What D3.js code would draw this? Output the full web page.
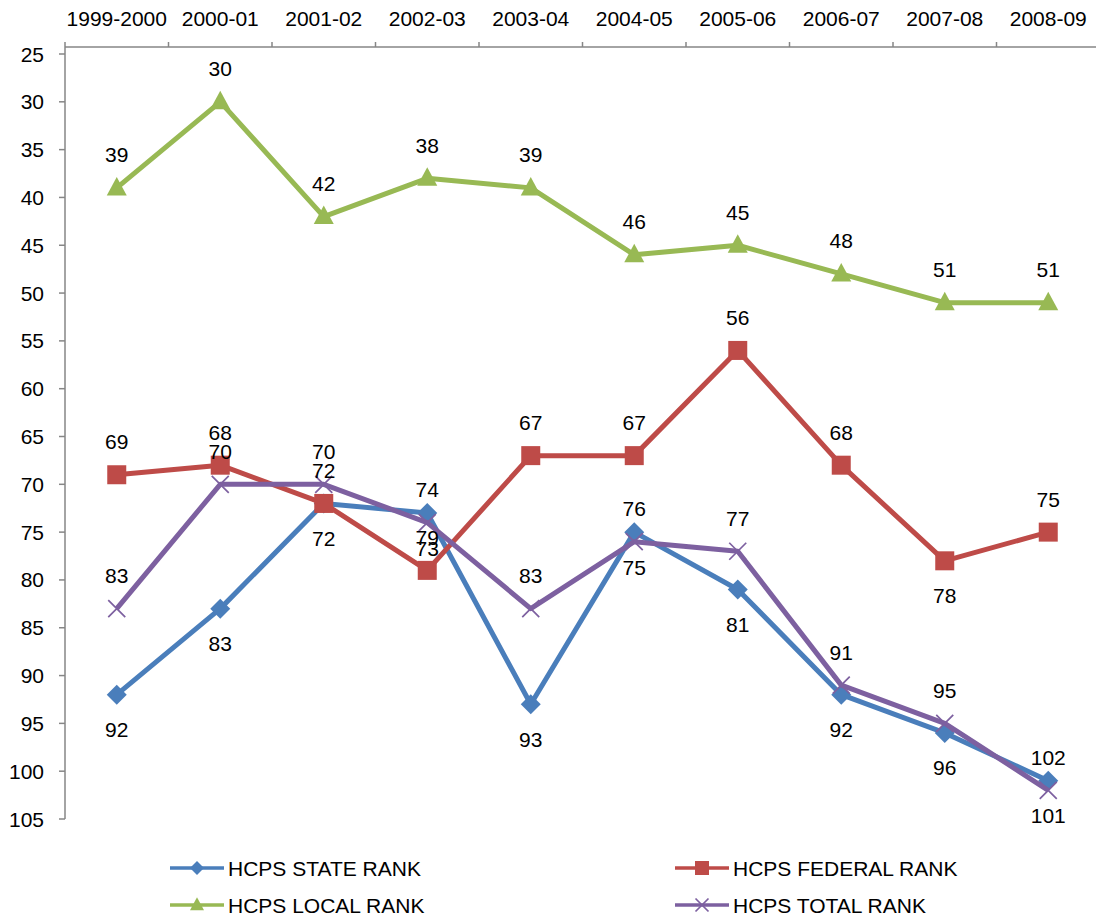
<!DOCTYPE html>
<html><head><meta charset="utf-8">
<script src="https://cdn.jsdelivr.net/npm/d3@7"></script>
<style>body{margin:0;background:#fff}svg{display:block}text{font-family:"Liberation Sans",Arial,sans-serif;fill:#000}</style>
</head><body><svg id="c" width="1096" height="916"></svg>
<script>
const categories = ["1999-2000","2000-01","2001-02","2002-03","2003-04","2004-05","2005-06","2006-07","2007-08","2008-09"];
const stateRank   = [92, 83, 72, 73, 93, 75, 81, 92, 96, 101];
const federalRank = [69, 68, 72, 79, 67, 67, 56, 68, 78, 75];
const localRank   = [39, 30, 42, 38, 39, 46, 45, 48, 51, 51];
const totalRank   = [83, 70, 70, 74, 83, 76, 77, 91, 95, 102];
const yTicks = [25,30,35,40,45,50,55,60,65,70,75,80,85,90,95,100,105];
const seriesNames = ["HCPS STATE RANK","HCPS FEDERAL RANK","HCPS LOCAL RANK","HCPS TOTAL RANK"];

const series = [
  {name: seriesNames[0], values: stateRank,   color:"#4A7EBB", marker:"diamond", labelPos: i => "below"},
  {name: seriesNames[1], values: federalRank, color:"#BE4B48", marker:"square",  labelPos: i => i === 8 ? "below" : "above"},
  {name: seriesNames[2], values: localRank,   color:"#98B954", marker:"triangle",labelPos: i => "above"},
  {name: seriesNames[3], values: totalRank,   color:"#7D60A0", marker:"x",       labelPos: i => "above"}
];

const svg = d3.select("#c");
const pLeft = 65, pRight = 1100, pTop = 54, pBottom = 819;
const x = d3.scaleBand().domain(categories).range([pLeft, pRight]);
const y = d3.scaleLinear().domain([25,105]).range([pTop, pBottom]);
const axisColor = "#868686";
const fs = "21px";

// Top category axis
const xAxis = svg.append("g").attr("transform",`translate(0,${pTop - 7})`);
xAxis.append("line").attr("x1",pLeft).attr("x2",pRight).attr("y1",0).attr("y2",0).attr("stroke",axisColor).attr("stroke-width",1.5);
d3.range(categories.length + 1).forEach(i => {
  const xx = pLeft + i * x.bandwidth();
  xAxis.append("line").attr("x1",xx).attr("x2",xx).attr("y1",0).attr("y2",-5).attr("stroke",axisColor).attr("stroke-width",1.5);
});
xAxis.selectAll("text.cat").data(categories).join("text")
  .attr("x", d => x(d) + x.bandwidth()/2).attr("y", -21)
  .attr("text-anchor","middle").style("font-size",fs).text(d => d);

// Left value axis
const yAxis = svg.append("g");
yAxis.append("line").attr("x1",pLeft).attr("x2",pLeft).attr("y1",pTop - 7).attr("y2",pBottom).attr("stroke",axisColor).attr("stroke-width",1.5);
yAxis.selectAll("line.t").data(yTicks).join("line").attr("class","t")
  .attr("x1",pLeft - 6).attr("x2",pLeft).attr("y1",d => y(d)).attr("y2",d => y(d))
  .attr("stroke",axisColor).attr("stroke-width",1.5);
yAxis.selectAll("text").data(yTicks).join("text")
  .attr("x", 44).attr("y", d => y(d) + 7.5).attr("text-anchor","end")
  .style("font-size",fs).text(d => d);

function drawMarker(g, type, cx, cy, color, s) {
  if (type === "diamond") {
    g.append("path").attr("d", `M${cx},${cy-s}L${cx+s},${cy}L${cx},${cy+s}L${cx-s},${cy}Z`).attr("fill",color);
  } else if (type === "square") {
    g.append("rect").attr("x",cx - s).attr("y",cy - s).attr("width",2*s).attr("height",2*s).attr("fill",color);
  } else if (type === "triangle") {
    g.append("path").attr("d", `M${cx},${cy-s*1.1}L${cx+s},${cy+s*0.75}L${cx-s},${cy+s*0.75}Z`).attr("fill",color);
  } else if (type === "x") {
    g.append("path").attr("d", `M${cx-s},${cy-s}L${cx+s},${cy+s}M${cx+s},${cy-s}L${cx-s},${cy+s}`)
      .attr("stroke",color).attr("stroke-width",1.7).attr("fill","none");
  }
}
const markerSize = {diamond:10, square:9.5, triangle:10, x:8.5};

const line = d3.line().x((d,i) => x(categories[i]) + x.bandwidth()/2).y(d => y(d));
series.forEach(s => {
  const g = svg.append("g");
  g.append("path").datum(s.values).attr("d", line).attr("fill","none")
    .attr("stroke", s.color).attr("stroke-width",5).attr("stroke-linejoin","round");
  s.values.forEach((v,i) => drawMarker(g, s.marker, x(categories[i]) + x.bandwidth()/2, y(v), s.color, markerSize[s.marker]));
});

// data labels
const labels = svg.append("g");
series.forEach(s => {
  s.values.forEach((v,i) => {
    const pos = s.labelPos(i);
    const cy = y(v) + (pos === "above" ? -33 : 35);
    labels.append("text").attr("x", x(categories[i]) + x.bandwidth()/2).attr("y", cy + 7.5)
      .attr("text-anchor","middle").style("font-size",fs).text(v);
  });
});

// legend
const legendItems = [
  {s: series[0], lx: 170, ly: 868},
  {s: series[1], lx: 675, ly: 868},
  {s: series[2], lx: 170, ly: 905},
  {s: series[3], lx: 675, ly: 905}
];
const lg = svg.append("g");
legendItems.forEach(it => {
  lg.append("line").attr("x1", it.lx).attr("x2", it.lx + 54).attr("y1", it.ly).attr("y2", it.ly)
    .attr("stroke", it.s.color).attr("stroke-width", 3.5);
  drawMarker(lg, it.s.marker, it.lx + 27, it.ly, it.s.color, it.s.marker === "x" ? 6.5 : 7);
  lg.append("text").attr("x", it.lx + 58).attr("y", it.ly + 7.5).style("font-size",fs).text(it.s.name);
});
</script></body></html>
